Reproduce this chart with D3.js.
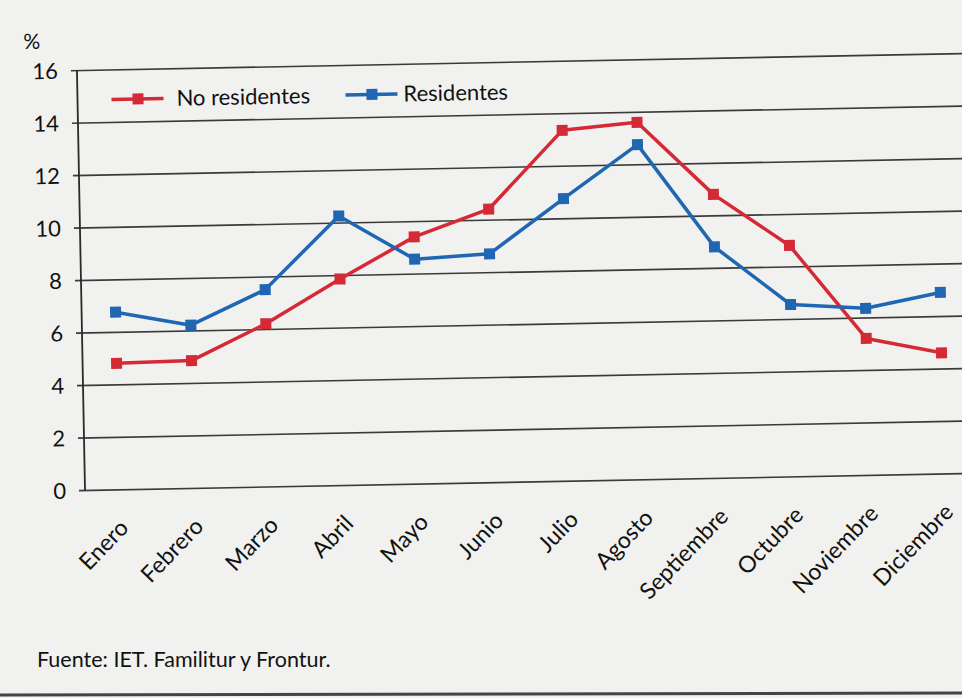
<!DOCTYPE html>
<html>
<head>
<meta charset="utf-8">
<script src="https://cdn.jsdelivr.net/npm/d3@7"></script>
<style>
  body { margin: 0; background: #f1f1ef; }
  svg { display: block; }
  text { font-family: Lato, "Open Sans", sans-serif; fill: #111; }
</style>
</head>
<body>
<svg id="chart" width="962" height="698"></svg>
<script>
const MONTHS = ['Enero', 'Febrero', 'Marzo', 'Abril', 'Mayo', 'Junio', 'Julio', 'Agosto',
    'Septiembre', 'Octubre', 'Noviembre', 'Diciembre'];
const NO_RESIDENTES = [4.8, 4.85, 6.2, 7.85, 9.4, 10.4, 13.35, 13.6, 10.8, 8.8, 5.2, 4.6];
const RESIDENTES = [6.75, 6.2, 7.5, 10.25, 8.55, 8.7, 10.75, 12.75, 8.8, 6.55, 6.35, 6.9];
const Y_TICKS = [0, 2, 4, 6, 8, 10, 12, 14, 16];

const SERIES = [
    { name: 'No residentes', values: NO_RESIDENTES, color: '#d52a35' },
    { name: 'Residentes', values: RESIDENTES, color: '#1f66b3' }
];

const svg = d3.select('#chart');

// the scan is a little tilted, so the whole chart is turned a bit
const origin = { x: 85, y: 490 };
const plotH = 420;
const plotW = 910;

const g = svg.append('g')
    .attr('transform', `rotate(-1.1, ${origin.x}, ${origin.y}) translate(${origin.x}, ${origin.y - plotH})`);

const x = d3.scalePoint()
    .domain(MONTHS)
    .range([34, 34 + 11 * 75]);

const y = d3.scaleLinear()
    .domain([0, 16])
    .range([plotH, 0]);

// --- grid + y axis
const yAxis = d3.axisLeft(y)
    .tickValues(Y_TICKS)
    .tickSize(-plotW - 6)
    .tickPadding(13)
    .tickFormat(d3.format('d'));

const yG = g.append('g')
    .attr('transform', 'translate(-6, 0)')
    .call(yAxis);
yG.select('.domain').remove();
yG.selectAll('.tick line')
    .attr('stroke', '#3a3a3a')
    .attr('stroke-width', 1.6);
yG.selectAll('.tick text')
    .attr('font-family', 'Lato, "Open Sans", sans-serif')
    .attr('font-size', 22)
    .attr('fill', '#111')
    .attr('dy', '0.36em');

// vertical axis line
g.append('line')
    .attr('x1', 0).attr('x2', 0)
    .attr('y1', 0).attr('y2', plotH)
    .attr('stroke', '#2a2a2a')
    .attr('stroke-width', 1.8);

g.append('text')
    .attr('x', -53)
    .attr('y', -22)
    .attr('font-size', 21)
    .text('%');

// --- x labels
g.append('g')
    .selectAll('text')
    .data(MONTHS)
    .enter()
    .append('text')
    .attr('font-size', 23)
    .attr('text-anchor', 'end')
    .attr('transform', d => `translate(${x(d) + 10}, ${plotH + 40}) rotate(-45)`)
    .text(d => d);

// --- lines
const line = d3.line()
    .x((d, i) => x(MONTHS[i]))
    .y(d => y(d));

SERIES.forEach(s => {
    g.append('path')
        .datum(s.values)
        .attr('fill', 'none')
        .attr('stroke', s.color)
        .attr('stroke-width', 3.5)
        .attr('stroke-linejoin', 'round')
        .attr('d', line);

    g.append('g')
        .selectAll('rect')
        .data(s.values)
        .enter()
        .append('rect')
        .attr('x', (d, i) => x(MONTHS[i]) - 5.5)
        .attr('y', d => y(d) - 5.5)
        .attr('width', 11)
        .attr('height', 11)
        .attr('fill', s.color);
});

// --- legend
const legendPos = [{ x: 34, y: 30, tx: 99 }, { x: 268, y: 30, tx: 326 }];
SERIES.forEach((s, i) => {
    const p = legendPos[i];
    const lg = g.append('g').attr('transform', `translate(${p.x}, ${p.y})`);
    lg.append('line')
        .attr('x1', 0).attr('x2', 52)
        .attr('stroke', s.color)
        .attr('stroke-width', 3.5);
    lg.append('rect')
        .attr('x', 21).attr('y', -5.5)
        .attr('width', 11).attr('height', 11)
        .attr('fill', s.color);
    lg.append('text')
        .attr('x', p.tx - p.x)
        .attr('y', 0)
        .attr('dy', '0.35em')
        .attr('font-size', 22)
        .text(s.name);
});

// --- source
svg.append('text')
    .attr('x', 37)
    .attr('y', 667)
    .attr('font-size', 21.5)
    .text('Fuente: IET. Familitur y Frontur.');

svg.append('line')
    .attr('x1', 0).attr('x2', 962)
    .attr('y1', 695).attr('y2', 693)
    .attr('stroke', '#444')
    .attr('stroke-width', 3);
</script>
</body>
</html>
